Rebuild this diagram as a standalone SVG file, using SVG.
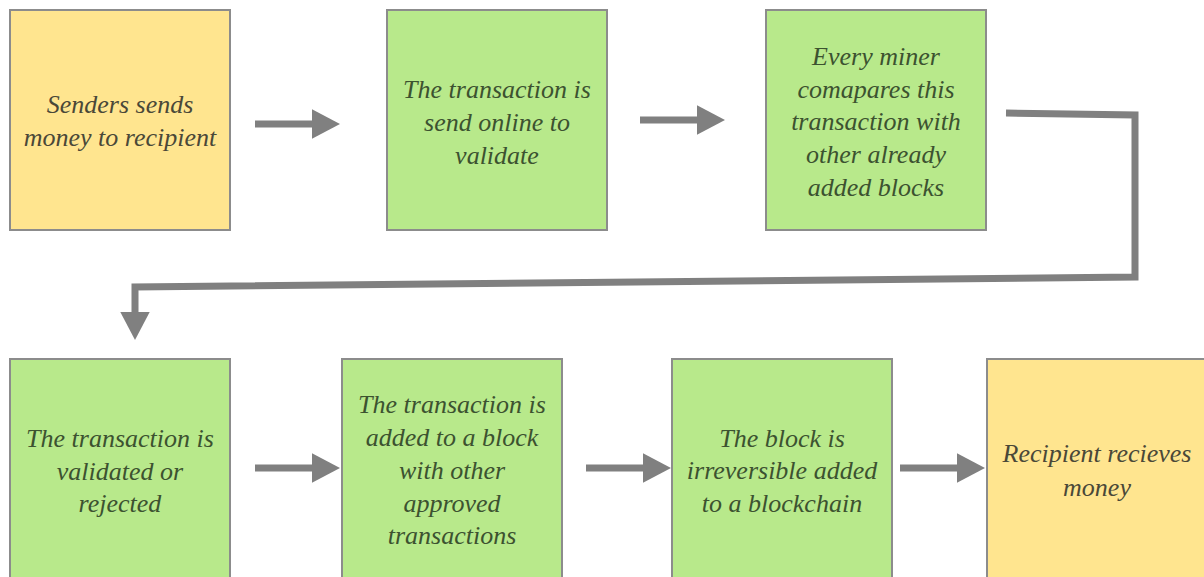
<svg xmlns="http://www.w3.org/2000/svg" width="1204" height="577" viewBox="0 0 1204 577">
<defs>
<style>
.box{stroke:#8c8c8c;stroke-width:2}
.y{fill:#FFE58F}
.g{fill:#B8E98B}
.t{font-family:'Liberation Serif','Times New Roman',serif;font-style:italic;font-size:26px;text-anchor:middle}
.ty{fill:#4a4838}
.tg{fill:#3c5230}
.c{stroke:#808080;stroke-width:7;fill:none}
</style>
<marker id="ah" markerWidth="4" markerHeight="4.2" refX="0" refY="2.1" orient="auto" markerUnits="strokeWidth">
<path d="M0,0 L4,2.1 L0,4.2 Z" fill="#808080"/>
</marker>
</defs>
<rect width="1204" height="577" fill="#ffffff"/>
<g id="connectors">
<path class="c" d="M255,124 H312" marker-end="url(#ah)"/>
<path class="c" d="M640,120 H697" marker-end="url(#ah)"/>
<path class="c" d="M1006,113 L1135,115 L1135,277 L135,287 L135,312" marker-end="url(#ah)"/>
<path class="c" d="M255,468 H312" marker-end="url(#ah)"/>
<path class="c" d="M586,468 H643" marker-end="url(#ah)"/>
<path class="c" d="M900,468 H957" marker-end="url(#ah)"/>
</g>
<g id="n1">
<rect class="box y" x="10" y="10" width="220" height="220"/>
<text class="t ty" x="120" y="113">Senders sends</text>
<text class="t ty" x="120" y="146">money to recipient</text>
</g>
<g id="n2">
<rect class="box g" x="387" y="10" width="220" height="220"/>
<text class="t tg" x="497" y="98">The transaction is</text>
<text class="t tg" x="497" y="131">send online to</text>
<text class="t tg" x="497" y="164">validate</text>
</g>
<g id="n3">
<rect class="box g" x="766" y="10" width="220" height="220"/>
<text class="t tg" x="876" y="65">Every miner</text>
<text class="t tg" x="876" y="98">comapares this</text>
<text class="t tg" x="876" y="130">transaction with</text>
<text class="t tg" x="876" y="163">other already</text>
<text class="t tg" x="876" y="196">added blocks</text>
</g>
<g id="n4">
<rect class="box g" x="10" y="359" width="220" height="230"/>
<text class="t tg" x="120" y="447">The transaction is</text>
<text class="t tg" x="120" y="480">validated or</text>
<text class="t tg" x="120" y="512">rejected</text>
</g>
<g id="n5">
<rect class="box g" x="342" y="359" width="220" height="230"/>
<text class="t tg" x="452" y="413">The transaction is</text>
<text class="t tg" x="452" y="446">added to a block</text>
<text class="t tg" x="452" y="479">with other</text>
<text class="t tg" x="452" y="512">approved</text>
<text class="t tg" x="452" y="544">transactions</text>
</g>
<g id="n6">
<rect class="box g" x="672" y="359" width="220" height="230"/>
<text class="t tg" x="782" y="447">The block is</text>
<text class="t tg" x="782" y="479">irreversible added</text>
<text class="t tg" x="782" y="512">to a blockchain</text>
</g>
<g id="n7">
<rect class="box y" x="987" y="359" width="230" height="230"/>
<text class="t ty" x="1097" y="462">Recipient recieves</text>
<text class="t ty" x="1097" y="496">money</text>
</g>
</svg>
